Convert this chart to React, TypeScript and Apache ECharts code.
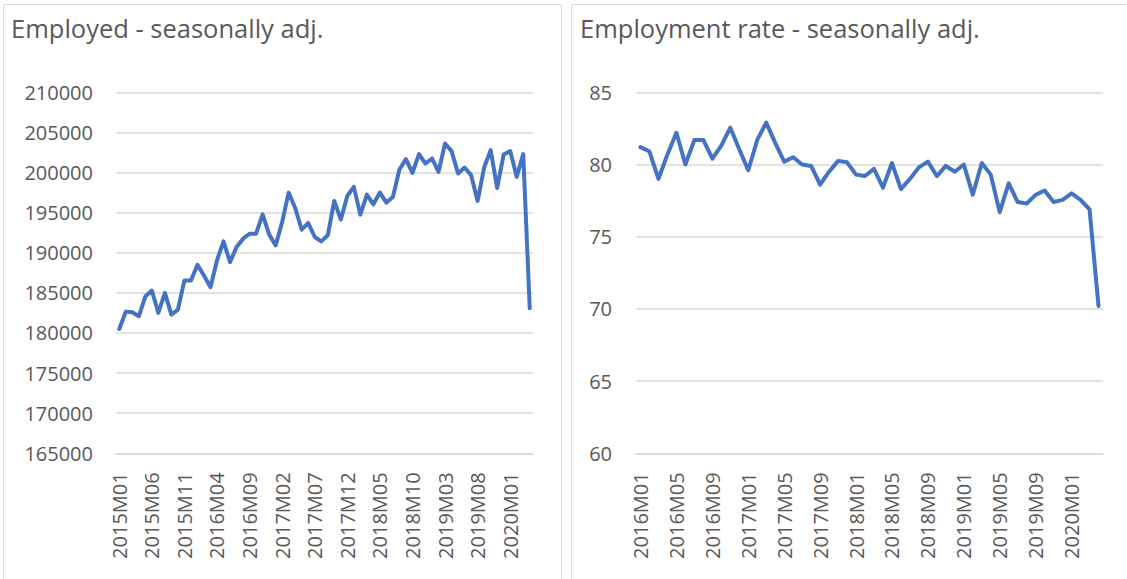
import React, { useEffect, useRef } from "react";
import * as echarts from "echarts";

const leftTitle = "Employed - seasonally adj.";
const rightTitle = "Employment rate - seasonally adj.";

function months(startYear: number, startMonth: number, count: number): string[] {
  const out: string[] = [];
  let y = startYear;
  let m = startMonth;
  for (let i = 0; i < count; i++) {
    out.push(`${y}M${m < 10 ? "0" + m : m}`);
    m++;
    if (m > 12) { m = 1; y++; }
  }
  return out;
}

const employedValues = [
  180500, 182660, 182580, 182080, 184540, 185290, 182500, 185000, 182290, 182910,
  186540, 186540, 188500, 187170, 185710, 189040, 191420, 188830, 190710, 191750,
  192370, 192370, 194790, 192290, 190920, 193830, 197500, 195580, 192870, 193710,
  191960, 191420, 192170, 196460, 194120, 197080, 198210, 194750, 197250, 196040,
  197500, 196250, 196960, 200370, 201670, 199960, 202290, 201120, 201750, 200080,
  203620, 202670, 199870, 200620, 199670, 196460, 200620, 202790, 198080, 202250,
  202670, 199460, 202290, 183080,
];
const employedCategories = months(2015, 1, employedValues.length);

const rateValues = [
  81.2, 80.9, 79.0, 80.7, 82.2, 80.0, 81.7, 81.7, 80.4, 81.3,
  82.55, 81.05, 79.6, 81.7, 82.9, 81.5, 80.2, 80.5, 80.0, 79.9,
  78.6, 79.5, 80.25, 80.15, 79.3, 79.2, 79.7, 78.4, 80.1, 78.3,
  79.0, 79.8, 80.2, 79.2, 79.9, 79.5, 80.0, 77.9, 80.1, 79.3,
  76.7, 78.7, 77.4, 77.3, 77.9, 78.2, 77.4, 77.55, 78.0, 77.55,
  76.9, 70.2,
];
const rateCategories = months(2016, 1, rateValues.length);

const employedTicks = { min: 165000, max: 210000, interval: 5000 };
const rateTicks = { min: 60, max: 85, interval: 5 };

const FONT = "'Open Sans', sans-serif";
const TEXT = "#595959";
const GRID = "#d9d9d9";
const LINE = "#4472C4";

export default function App() {
  const ref = useRef<HTMLDivElement>(null);
  useEffect(() => {
    document.body.style.margin = "0";
    const chart = echarts.init(ref.current!, undefined, { renderer: "svg" });
    const xAxisCommon = (data: string[], interval: number, gridIndex: number) => ({
      type: "category" as const,
      gridIndex,
      data,
      boundaryGap: true,
      axisTick: { show: false },
      axisLine: { show: true, lineStyle: { color: GRID, width: 1.5 } },
      axisLabel: {
        interval,
        rotate: 90,
        margin: 19,
        color: TEXT,
        fontSize: 20,
        fontFamily: FONT,
      },
    });
    const yAxisCommon = (t: { min: number; max: number; interval: number }, gridIndex: number, margin: number) => ({
      type: "value" as const,
      gridIndex,
      min: t.min,
      max: t.max,
      interval: t.interval,
      axisLine: { show: false },
      axisTick: { show: false },
      splitLine: { lineStyle: { color: GRID, width: 1.5 } },
      axisLabel: {
        color: TEXT,
        fontSize: 20,
        fontFamily: FONT,
        margin,
        formatter: (v: number) => String(v),
      },
    });
    chart.setOption({
      animation: false,
      grid: [
        { left: 116, top: 92.3, width: 417, height: 361, containLabel: false },
        { left: 636, top: 92.3, width: 467, height: 361, containLabel: false },
      ],
      xAxis: [xAxisCommon(employedCategories, 4, 0), xAxisCommon(rateCategories, 3, 1)],
      yAxis: [yAxisCommon(employedTicks, 0, 23), yAxisCommon(rateTicks, 1, 24)],
      series: [
        {
          type: "line",
          xAxisIndex: 0,
          yAxisIndex: 0,
          data: employedValues,
          showSymbol: false,
          lineStyle: { color: LINE, width: 4, join: "round", cap: "round" },
          itemStyle: { color: LINE },
        },
        {
          type: "line",
          xAxisIndex: 1,
          yAxisIndex: 1,
          data: rateValues,
          showSymbol: false,
          lineStyle: { color: LINE, width: 4, join: "round", cap: "round" },
          itemStyle: { color: LINE },
        },
      ],
      graphic: [
        {
          type: "rect",
          shape: { x: 3.5, y: 4.5, width: 558, height: 600 },
          style: { fill: "none", stroke: GRID, lineWidth: 1 },
          z: -1,
        },
        {
          type: "rect",
          shape: { x: 571.5, y: 4.5, width: 600, height: 600 },
          style: { fill: "none", stroke: GRID, lineWidth: 1 },
          z: -1,
        },
        {
          type: "text",
          x: 11,
          y: 28,
          style: {
            text: leftTitle,
            fill: TEXT,
            fontSize: 25.5,
            fontFamily: FONT,
            verticalAlign: "middle",
          },
        },
        {
          type: "text",
          x: 580,
          y: 28,
          style: {
            text: rightTitle,
            fill: TEXT,
            fontSize: 25.5,
            fontFamily: FONT,
            verticalAlign: "middle",
          },
        },
      ],
    });
    return () => chart.dispose();
  }, []);
  return (
    <div
      ref={ref}
      style={{ position: "absolute", left: 0, top: 0, width: 1127, height: 579, background: "#fff" }}
    />
  );
}
